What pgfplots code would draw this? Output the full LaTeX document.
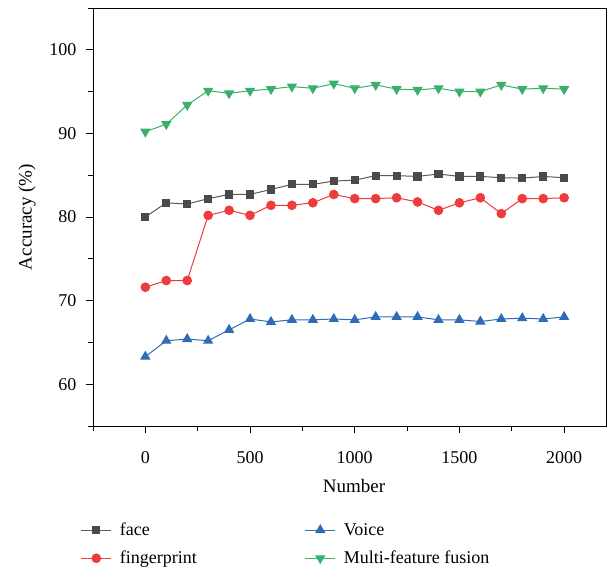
\documentclass[border=0pt]{standalone}
\usepackage{pgfplots}
\pgfplotsset{compat=1.18}
\usepackage{fontspec}
\setmainfont{Liberation Serif}
\definecolor{cface}{HTML}{4A4A4A}
\definecolor{cfaceline}{HTML}{5A5A5A}
\definecolor{cfing}{HTML}{EE3B3E}
\definecolor{cvoice}{HTML}{2E6CB5}
\definecolor{cfus}{HTML}{3BB06A}
\begin{document}
\begin{tikzpicture}[x=1pt,y=1pt]
\begin{axis}[
  at={(0,0)}, anchor=south west,
  scale only axis, width=513pt, height=418pt,
  xmin=-250, xmax=2200, ymin=55, ymax=105,
  xtick={0,500,1000,1500,2000},
  minor xtick={-250,250,750,1250,1750},
  ytick={60,70,80,90,100},
  minor ytick={55,65,75,85,95,105},
  xtick pos=bottom, ytick pos=left,
  tick align=outside,
  major tick length=7pt, minor tick length=4.5pt,
  every tick/.style={black, line width=0.8pt},
  axis line style={line width=0.9pt},
  /pgf/number format/assume math mode=true,
  /pgf/number format/1000 sep={},
  tick label style={font=\fontsize{18}{21}\selectfont},
  xticklabel style={yshift=-15pt},
  yticklabel style={xshift=-6pt},
  label style={font=\fontsize{19}{22}\selectfont},
  xlabel={Number}, ylabel={Accuracy (\%)},
  xlabel style={at={(axis description cs:0.509,-0.1435)}, anchor=center},
  ylabel style={at={(axis description cs:-0.1287,0.5)}, anchor=center, rotate=0},
  legend columns=2,
  transpose legend,
  legend cell align=left,
  legend style={draw=none, fill=none, at={(axis description cs:-0.03,-0.222)}, anchor=north west,
    font=\fontsize{18}{21}\selectfont,
    /tikz/every odd column/.append style={column sep=6pt},
    /tikz/every even column/.append style={column sep=106pt},
    row sep=10pt},
  legend image code/.code={\draw[mark repeat=2,mark phase=2] plot coordinates {(0pt,0pt) (15pt,0pt) (30pt,0pt)};},
]
\addplot[cfaceline, line width=1pt, mark=square*, mark size=3.6pt, mark options={fill=cface, draw=cface}] coordinates {
(0,80.0) (100,81.7) (200,81.55) (300,82.2) (400,82.7) (500,82.7) (600,83.3) (700,83.9) (800,83.9) (900,84.3) (1000,84.4) (1100,84.95) (1200,84.95) (1300,84.85) (1400,85.15) (1500,84.85) (1600,84.85) (1700,84.7) (1800,84.65) (1900,84.85) (2000,84.7)};
\addlegendentry{face}
\addplot[cfing, line width=1pt, mark=*, mark size=4.3pt, mark options={fill=cfing, draw=cfing}] coordinates {
(0,71.6) (100,72.4) (200,72.4) (300,80.2) (400,80.8) (500,80.2) (600,81.4) (700,81.4) (800,81.7) (900,82.7) (1000,82.2) (1100,82.2) (1200,82.3) (1300,81.8) (1400,80.8) (1500,81.7) (1600,82.3) (1700,80.4) (1800,82.2) (1900,82.2) (2000,82.3)};
\addlegendentry{fingerprint}
\addplot[cvoice, line width=1pt, mark=triangle*, mark size=5pt, mark options={fill=cvoice, draw=cvoice}] coordinates {
(0,63.3) (100,65.2) (200,65.4) (300,65.2) (400,66.5) (500,67.8) (600,67.45) (700,67.7) (800,67.7) (900,67.8) (1000,67.7) (1100,68.05) (1200,68.05) (1300,68.05) (1400,67.7) (1500,67.7) (1600,67.5) (1700,67.8) (1800,67.9) (1900,67.8) (2000,68.05)};
\addlegendentry{Voice}
\addplot[cfus, line width=1pt, mark=triangle*, mark size=5pt, mark options={fill=cfus, draw=cfus, rotate=180}] coordinates {
(0,90.2) (100,91.1) (200,93.4) (300,95.1) (400,94.8) (500,95.1) (600,95.3) (700,95.6) (800,95.4) (900,95.95) (1000,95.4) (1100,95.8) (1200,95.3) (1300,95.2) (1400,95.4) (1500,95.0) (1600,95.0) (1700,95.8) (1800,95.3) (1900,95.4) (2000,95.3)};
\addlegendentry{Multi-feature fusion}
\end{axis}
\pgfresetboundingbox
\path[use as bounding box] (-93,-145) rectangle (514,426);
\end{tikzpicture}
\end{document}
